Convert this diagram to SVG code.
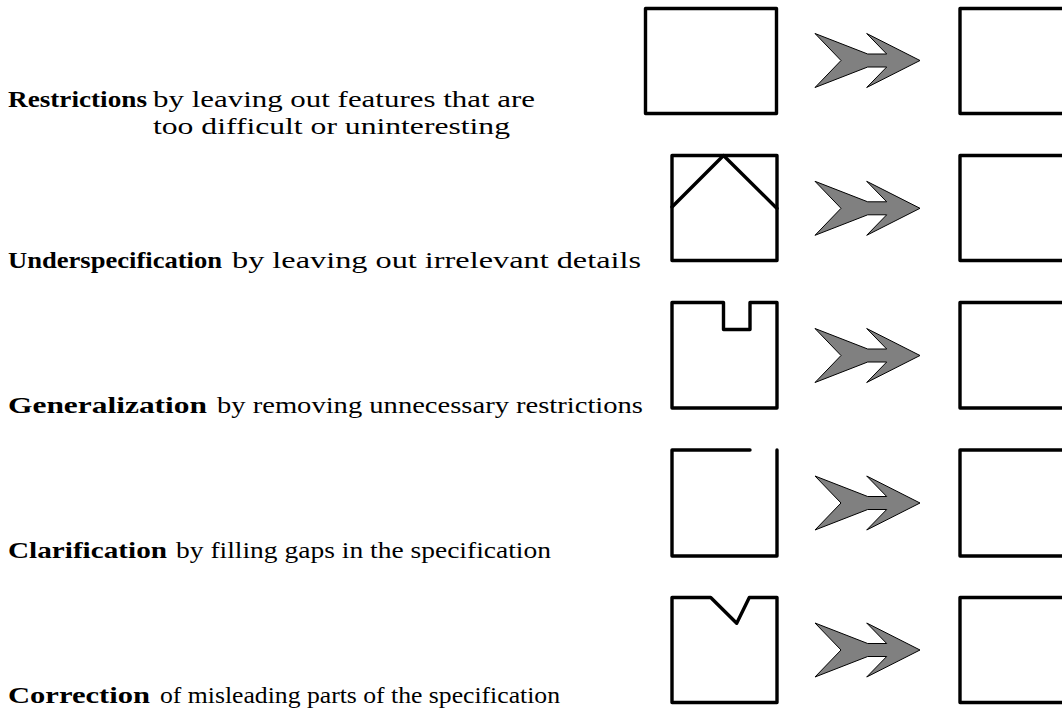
<svg xmlns="http://www.w3.org/2000/svg" width="1062" height="713" viewBox="0 0 1062 713">
<style>
.box{fill:none;stroke:#000;stroke-width:3.4;stroke-linejoin:round;stroke-linecap:round}
.t{font-family:"Liberation Serif","Times New Roman",serif;font-size:23.5px;fill:#000}
.b{font-weight:bold}
.arr{fill:#808080;stroke:#000;stroke-width:1;stroke-linejoin:miter}
</style>
<defs>
<polygon id="dbl" class="arr" points="815,-27 867.7,-6.5 886.7,-6.5 866.7,-27 920,0 866.7,27 886.7,6.5 867.7,6.5 815,27 841,0"/>
</defs>
<rect width="1062" height="713" fill="#fff"/>

<g id="row-restrictions">
<text class="t" y="107"><tspan class="b" x="8" textLength="139" lengthAdjust="spacingAndGlyphs">Restrictions</tspan><tspan x="153" textLength="382" lengthAdjust="spacingAndGlyphs">by leaving out features that are</tspan></text>
<text class="t" x="153" y="134" textLength="357" lengthAdjust="spacingAndGlyphs">too difficult or uninteresting</text>
<rect class="box" x="645.5" y="8.5" width="131" height="105"/>
<rect class="box" x="960" y="8.5" width="131" height="105"/>
</g>

<g id="row-underspecification">
<text class="t" y="268"><tspan class="b" x="8" textLength="214" lengthAdjust="spacingAndGlyphs">Underspecification</tspan><tspan x="232" textLength="409" lengthAdjust="spacingAndGlyphs">by leaving out irrelevant details</tspan></text>
<rect class="box" x="672" y="155.5" width="105" height="105"/>
<polyline class="box" points="672,207 723.5,155.5 777,208.5"/>
<rect class="box" x="960" y="155.5" width="131" height="105"/>
</g>

<g id="row-generalization">
<text class="t" y="413"><tspan class="b" x="8" textLength="199" lengthAdjust="spacingAndGlyphs">Generalization</tspan><tspan x="217" textLength="426" lengthAdjust="spacingAndGlyphs">by removing unnecessary restrictions</tspan></text>
<path class="box" d="M672,302.5 H723.5 V329.5 H750 V302.5 H777 V408 H672 Z"/>
<rect class="box" x="960" y="302.5" width="131" height="105.5"/>
</g>

<g id="row-clarification">
<text class="t" y="558"><tspan class="b" x="8" textLength="159" lengthAdjust="spacingAndGlyphs">Clarification</tspan><tspan x="176" textLength="375" lengthAdjust="spacingAndGlyphs">by filling gaps in the specification</tspan></text>
<path class="box" d="M750,450 H672 V556 H777 V450"/>
<rect class="box" x="960" y="450" width="131" height="106"/>
</g>

<g id="row-correction">
<text class="t" y="703"><tspan class="b" x="8" textLength="142" lengthAdjust="spacingAndGlyphs">Correction</tspan><tspan x="160" textLength="400" lengthAdjust="spacingAndGlyphs">of misleading parts of the specification</tspan></text>
<path class="box" d="M672,597.5 H710.7 L736.7,623.3 L749.3,597.5 H777 V702.5 H672 Z"/>
<rect class="box" x="960" y="597.5" width="131" height="105"/>
</g>

<g id="connectors">
<use href="#dbl" transform="translate(0,60.5)"/>
<use href="#dbl" transform="translate(0,208.3)"/>
<use href="#dbl" transform="translate(0,355.5)"/>
<use href="#dbl" transform="translate(0,503)"/>
<use href="#dbl" transform="translate(0,650)"/>
</g>
</svg>
